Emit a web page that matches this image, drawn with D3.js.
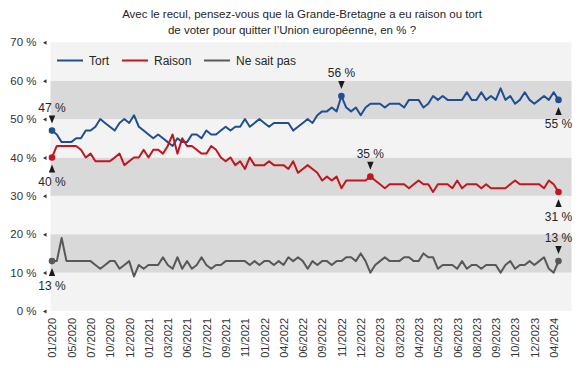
<!DOCTYPE html>
<html><head><meta charset="utf-8">
<script src="https://cdn.jsdelivr.net/npm/d3@7"></script>
<style>
html,body{margin:0;padding:0;background:#fff;}
svg{display:block;font-family:"Liberation Sans",Arial,Helvetica,sans-serif;}
</style></head>
<body><svg id="chart" width="579" height="368"></svg>
<script>
const titleLines = ["Avec le recul, pensez-vous que la Grande-Bretagne a eu raison ou tort",
                    "de voter pour quitter l\u2019Union européenne, en % ?"];
const tickLabels = ["01/2020","05/2020","07/2020","10/2020","12/2020","01/2021","03/2021","06/2021","07/2021",
  "09/2021","11/2021","01/2022","04/2022","06/2022","09/2022","11/2022","12/2022","02/2023","03/2023",
  "04/2023","05/2023","06/2023","08/2023","09/2023","10/2023","12/2023","04/2024"];
const yTicks = [0,10,20,30,40,50,60,70];
const seriesNames = ["Tort","Raison","Ne sait pas"];
const tort = [47,46,44,44,44,45,45,47,47,48, 50,49,48,47,49,50,49,51,48,47,
  46,45,46,45,44,43,45,44,44,46, 46,45,47,46,46,47,48,47,48,48,
  50,48,49,50,49,48,49,49,49,49, 47,48,49,50,49,51,52,52,53,52,
  56,53,52,53,51,53,54,54,54,53, 54,54,54,53,55,55,55,53,54,56,
  55,56,55,55,55,55,57,55,55,57, 55,56,55,58,55,56,54,55,57,55,
  54,55,56,55,57,55];
const raison = [40,43,43,43,43,43,42,40,41,39, 39,39,39,40,41,38,39,40,40,42,
  40,42,42,41,43,46,41,45,43,43, 42,41,41,43,42,40,39,40,38,39,
  37,40,38,38,38,39,38,38,38,37, 39,36,37,38,37,36,34,35,34,35,
  32,34,34,34,34,34,35,34,33,32, 33,33,33,33,32,33,34,33,33,31,
  33,33,33,32,34,32,33,33,33,32, 33,32,32,32,32,33,34,33,33,33,
  33,33,32,34,33,31];
const nsp = [13,13,19,13,13,13,13,13,13,12, 11,12,13,13,11,12,13,9,12,11,
  12,12,12,14,12,11,14,11,13,11, 12,14,12,11,12,12,13,13,13,13,
  13,12,13,12,13,13,12,13,12,14, 13,14,13,11,13,12,13,13,12,13,
  13,14,14,13,15,13,10,12,13,14, 13,13,13,14,14,13,13,15,14,14,
  11,12,12,12,11,13,11,12,12,11, 12,12,12,10,12,13,11,12,12,13,
  12,13,14,11,10,13];
// annotated points: series index, point index, side
const annSeries = [0,0,0,1,1,1,2,2];
const annIndex  = [0,60,105,0,66,105,0,105];
const annSide   = ["up","up","down","down","up","down","down","up"];

const colors = ["#1f4f93","#c0161d","#585858"];
const series = [tort, raison, nsp];
const n = tort.length;

const svg = d3.select("#chart");
const plotL = 50.5, plotR = 571.5;
const x = d3.scalePoint().domain(d3.range(n)).range([52, 558.5]);
const y = d3.scaleLinear().domain([0,70]).range([311, 42.3]);

// bands
svg.append("g").selectAll("rect").data(yTicks.slice(0,-1)).join("rect")
  .attr("x", plotL).attr("width", plotR-plotL)
  .attr("y", d => y(d+10)).attr("height", d => y(d)-y(d+10))
  .attr("fill", (d,i) => i%2===0 ? "#f3f3f3" : "#d9d9d9");

// title
svg.append("g").selectAll("text").data(titleLines).join("text")
  .attr("x", (d,i) => i===0 ? 302 : 292).attr("y", (d,i) => 18 + i*16)
  .attr("text-anchor","middle").attr("font-size","11.5px").attr("fill","#262626")
  .text(d => d);

// y axis
const yAxis = svg.append("g").attr("transform",`translate(${plotL},0)`)
  .call(d3.axisLeft(y).tickValues(yTicks).tickSize(0).tickPadding(14).tickFormat(d => d + " %"));
yAxis.select(".domain").remove();
yAxis.selectAll("text").attr("font-size","11.5px").attr("fill","#333").style("font-family","inherit");
yAxis.selectAll(".tick").append("path").attr("d","M-7.5,0L-4,-2L-4,2Z").attr("fill","#333");

// x axis
const xAxis = svg.append("g").attr("transform","translate(0,311)")
  .call(d3.axisBottom(x).tickValues(d3.range(0, n, 4)).tickSize(0)
        .tickFormat(i => tickLabels[i/4]));
xAxis.select(".domain").remove();
xAxis.selectAll("text").attr("transform","rotate(-90)").attr("x",-7).attr("y",0).attr("dy","0.35em")
  .style("text-anchor","end").attr("font-size","11px").attr("fill","#333").style("font-family","inherit");

// lines
const line = d3.line().x((d,i) => x(i)).y(d => y(d));
svg.append("g").selectAll("path").data(series).join("path")
  .attr("d", d => line(d)).attr("fill","none")
  .attr("stroke", (d,i) => colors[i]).attr("stroke-width",2)
  .attr("stroke-linejoin","round");

// annotations
const ann = annSeries.map((s,k) => ({s, i: annIndex[k], side: annSide[k], v: series[s][annIndex[k]]}));
const ag = svg.append("g");
ann.forEach(a => {
  const px = x(a.i), py = y(a.v);
  ag.append("circle").attr("cx",px).attr("cy",py).attr("r",3.3).attr("fill",colors[a.s]);
  if (a.side === "up") {
    ag.append("path").attr("d",`M${px-3.2},${py-15}L${px+3.2},${py-15}L${px},${py-7}Z`).attr("fill","#1a1a1a");
    ag.append("text").attr("x",px).attr("y",py-19).attr("text-anchor","middle")
      .attr("font-size","12px").attr("fill","#262626").text(a.v + " %");
  } else {
    ag.append("path").attr("d",`M${px-3.2},${py+15}L${px+3.2},${py+15}L${px},${py+7}Z`).attr("fill","#1a1a1a");
    ag.append("text").attr("x",px).attr("y",py+28.5).attr("text-anchor","middle")
      .attr("font-size","12px").attr("fill","#262626").text(a.v + " %");
  }
});

// legend
const legX = [57, 122, 204];
const lg = svg.append("g").selectAll("g").data(seriesNames).join("g")
  .attr("transform",(d,i) => `translate(${legX[i]},60.5)`);
lg.append("line").attr("x1",0).attr("x2",26).attr("y1",0).attr("y2",0)
  .attr("stroke",(d,i) => colors[i]).attr("stroke-width",2);
lg.append("text").attr("x",32).attr("y",4.3).attr("font-size","12px").attr("fill","#262626").text(d => d);
</script></body></html>
